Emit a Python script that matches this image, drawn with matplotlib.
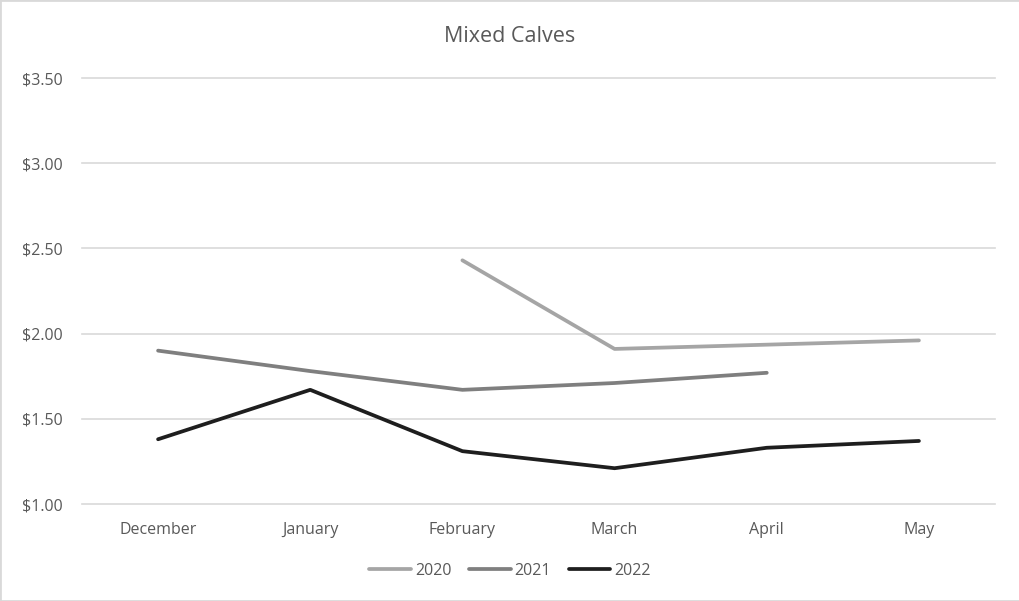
import matplotlib
matplotlib.use("Agg")
import matplotlib.pyplot as plt
from matplotlib.patches import Rectangle
import numpy as np

months = ["December", "January", "February", "March", "April", "May"]
y2020 = [np.nan, np.nan, 2.43, 1.91, 1.935, 1.96]
y2021 = [1.90, 1.78, 1.67, 1.71, 1.77, np.nan]
y2022 = [1.38, 1.67, 1.31, 1.21, 1.33, 1.37]
yticks = [1.0, 1.5, 2.0, 2.5, 3.0, 3.5]

plt.rcParams['font.family'] = ['Open Sans', 'DejaVu Sans']

fig = plt.figure(figsize=(10.2, 6.01), dpi=100)
ax = fig.add_axes([82 / 1020, 97 / 601, 913 / 1020, 426 / 601])

x = np.arange(len(months))
ax.plot(x, y2020, color='#A5A5A5', lw=2.7, label='2020', solid_capstyle='round')
ax.plot(x, y2021, color='#7F7F7F', lw=2.7, label='2021', solid_capstyle='round')
ax.plot(x, y2022, color='#1E1E1E', lw=2.7, label='2022', solid_capstyle='round')

ax.set_xlim(-0.5, 5.5)
ax.set_ylim(1.0, 3.5)
ax.set_yticks(yticks)
ax.set_yticklabels([f"${v:.2f}" for v in yticks])
ax.set_xticks(x)
ax.set_xticklabels(months)
ax.grid(axis='y', color='#D9D9D9', lw=1.2)
for gl in ax.get_ygridlines():
    gl.set_clip_on(False)
ax.set_axisbelow(True)
for s in ax.spines.values():
    s.set_visible(False)
ax.tick_params(length=0, labelsize=11.5, labelcolor='#595959')
ax.tick_params(axis='y', pad=14)
ax.tick_params(axis='x', pad=13)

fig.text(0.5, 1 - 36 / 601, "Mixed Calves", ha='center', va='center',
         fontsize=15.5, color='#595959')

fig.legend(loc='center', bbox_to_anchor=(0.5, 1 - 571 / 601), ncol=3, frameon=False,
           fontsize=11.5, labelcolor='#595959', handlelength=2.6, columnspacing=1.1,
           handletextpad=0.25)

fig.patches.append(Rectangle((0, 0), 1, 1, transform=fig.transFigure, fill=False,
                             edgecolor='#D9D9D9', lw=2))

fig.savefig("out.png", dpi=100)
